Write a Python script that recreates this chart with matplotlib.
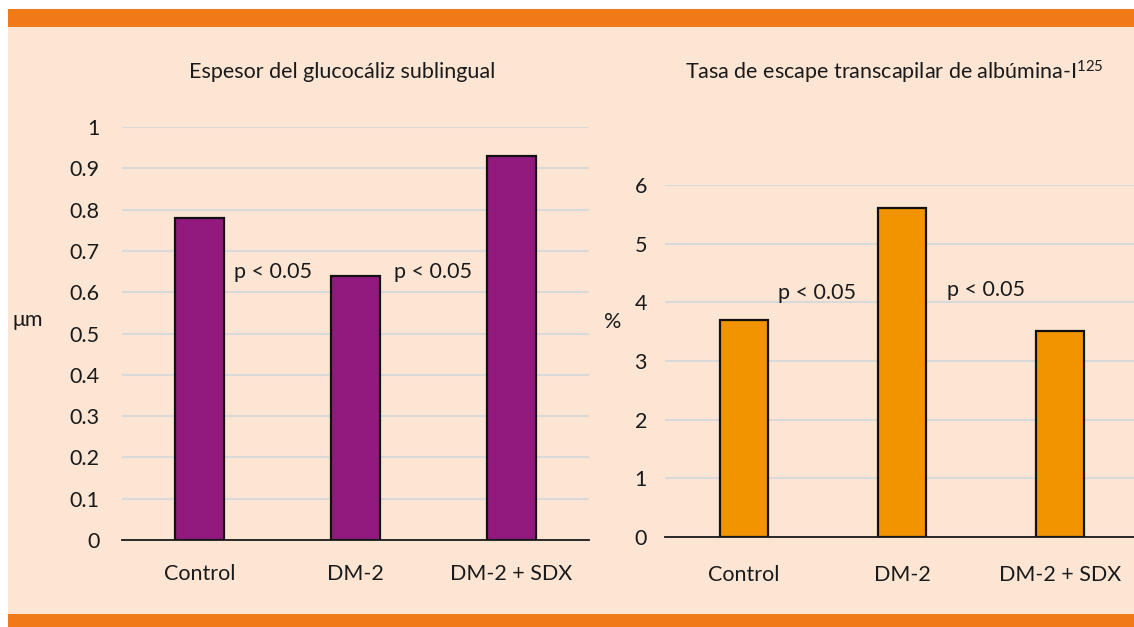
import matplotlib
matplotlib.use("Agg")
import matplotlib.pyplot as plt
from matplotlib.patches import Rectangle

categories = ['Control', 'DM-2', 'DM-2 + SDX']
glycocalyx = [0.78, 0.64, 0.93]
albumin = [3.70, 5.61, 3.51]
left_ticks = [0, 0.1, 0.2, 0.3, 0.4, 0.5, 0.6, 0.7, 0.8, 0.9, 1]
left_tick_labels = ['0', '0.1', '0.2', '0.3', '0.4', '0.5', '0.6', '0.7', '0.8', '0.9', '1']
right_ticks = [0, 1, 2, 3, 4, 5, 6]

plt.rcParams['font.family'] = ['Lato', 'DejaVu Sans']
plt.rcParams['mathtext.fontset'] = 'custom'
plt.rcParams['mathtext.rm'] = 'Lato'
plt.rcParams['mathtext.default'] = 'regular'
txt = '#1a1a1a'
peach = '#fde5d4'
band = '#f07a17'
fs = 15.5

fig = plt.figure(figsize=(11.34, 6.27), dpi=100)
fig.patch.set_facecolor('white')
H = 627.0
W = 1134.0
fig.patches.append(Rectangle((8 / W, 0), 1 - 8 / W, 1 - 9 / H, transform=fig.transFigure,
                             facecolor=peach, edgecolor='none', zorder=-3))
fig.patches.append(Rectangle((8 / W, 1 - 27 / H), 1 - 8 / W, 18 / H, transform=fig.transFigure,
                             facecolor=band, edgecolor='none', zorder=-2))
fig.patches.append(Rectangle((8 / W, 0), 1 - 8 / W, 13 / H, transform=fig.transFigure,
                             facecolor=band, edgecolor='none', zorder=-2))


def style(ax, ticks, labels, xpad, ypad):
    ax.set_facecolor('none')
    for s in ['left', 'right', 'top']:
        ax.spines[s].set_visible(False)
    ax.spines['bottom'].set_color('#1a1a1a')
    ax.spines['bottom'].set_linewidth(1.3)
    ax.set_xlim(-0.5, 2.5)
    ax.set_ylim(0, ticks[-1])
    ax.set_yticks(ticks)
    ax.set_yticklabels(labels)
    ax.set_xticks(range(len(categories)))
    ax.set_xticklabels(categories)
    ax.tick_params(axis='both', length=0, labelsize=fs, colors=txt)
    ax.tick_params(axis='x', pad=xpad)
    ax.tick_params(axis='y', pad=ypad)
    ax.yaxis.grid(True, color='#d9d9d9', linewidth=1.5)
    ax.set_axisbelow(True)


# left panel
ax1 = fig.add_axes([122 / W, 1 - 540 / H, 467 / W, 413 / H])
ax1.bar(range(3), glycocalyx, width=0.315, color='#921a7e', edgecolor='#111111', linewidth=1.6)
style(ax1, left_ticks, left_tick_labels, 17, 16)
ax1.text(0.47, 0.65, 'p < 0.05', fontsize=fs, color=txt, ha='center', va='center')
ax1.text(1.5, 0.65, 'p < 0.05', fontsize=fs, color=txt, ha='center', va='center')
fig.text(342 / W, 1 - 72 / H, 'Espesor del glucocáliz sublingual', fontsize=fs,
         color=txt, ha='center', va='center')
fig.text(28 / W, 1 - 320 / H, 'μm', fontsize=fs, color=txt, ha='center', va='center')

# right panel (runs off the right edge a little, as in the source)
ax2 = fig.add_axes([665 / W, 1 - 537 / H, 474 / W, 352 / H])
ax2.bar(range(3), albumin, width=0.31, color='#f29400', edgecolor='#111111', linewidth=1.6)
style(ax2, right_ticks, [str(t) for t in right_ticks], 20, 13)
ax2.text(0.46, 4.16, 'p < 0.05', fontsize=fs, color=txt, ha='center', va='center')
ax2.text(1.53, 4.21, 'p < 0.05', fontsize=fs, color=txt, ha='center', va='center')
fig.text(894 / W, 1 - 72 / H, 'Tasa de escape transcapilar de albúmina-I$^{125}$', fontsize=fs,
         color=txt, ha='center', va='center')
fig.text(613 / W, 1 - 322 / H, '%', fontsize=fs, color=txt, ha='center', va='center')

plt.savefig('out.png', dpi=100, facecolor=fig.get_facecolor())
